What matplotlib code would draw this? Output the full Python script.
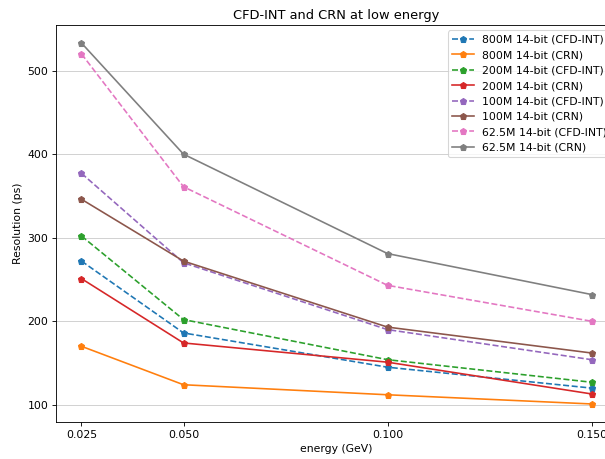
import numpy as np
import matplotlib
matplotlib.use('Agg')
import matplotlib.pyplot as plt

energy = [0.025, 0.05, 0.1, 0.15]

# resolution (ps) per sampling config
res_800_cfd = [272, 186, 145, 120]
res_800_crn = [170, 124, 112, 101]
res_200_cfd = [302, 202, 154, 127]
res_200_crn = [251, 174, 151, 113]
res_100_cfd = [377, 270, 190, 154]
res_100_crn = [346, 272, 193, 162]
res_625_cfd = [520, 361, 243, 200]
res_625_crn = [533, 400, 281, 232]

labels = ['800M 14-bit (CFD-INT)', '800M 14-bit (CRN)',
          '200M 14-bit (CFD-INT)', '200M 14-bit (CRN)',
          '100M 14-bit (CFD-INT)', '100M 14-bit (CRN)',
          '62.5M 14-bit (CFD-INT)', '62.5M 14-bit (CRN)']
series = [res_800_cfd, res_800_crn, res_200_cfd, res_200_crn,
          res_100_cfd, res_100_crn, res_625_cfd, res_625_crn]

DPI = 78
fig = plt.figure(figsize=(605/DPI, 459/DPI), dpi=DPI)
# axes run past the right edge, like the reference crop
ax = fig.add_axes([56/605, 1 - 422/459, (617 - 56)/605, (422 - 25)/459])

for vals, lab in zip(series, labels):
    ls = '--' if 'CFD' in lab else '-'
    ax.plot(energy, vals, ls, marker='p', label=lab)

ax.set_xticks(energy)
ax.set_xticklabels(['0.025', '0.050', '0.100', '0.150'])
ax.grid(axis='y', color='#cccccc')
ax.set_xlabel('energy (GeV)')
ax.set_ylabel('Resolution (ps)')
ax.set_title('CFD-INT and CRN at low energy')
ax.legend(loc='upper right')

fig.savefig('out.png', dpi=DPI)
